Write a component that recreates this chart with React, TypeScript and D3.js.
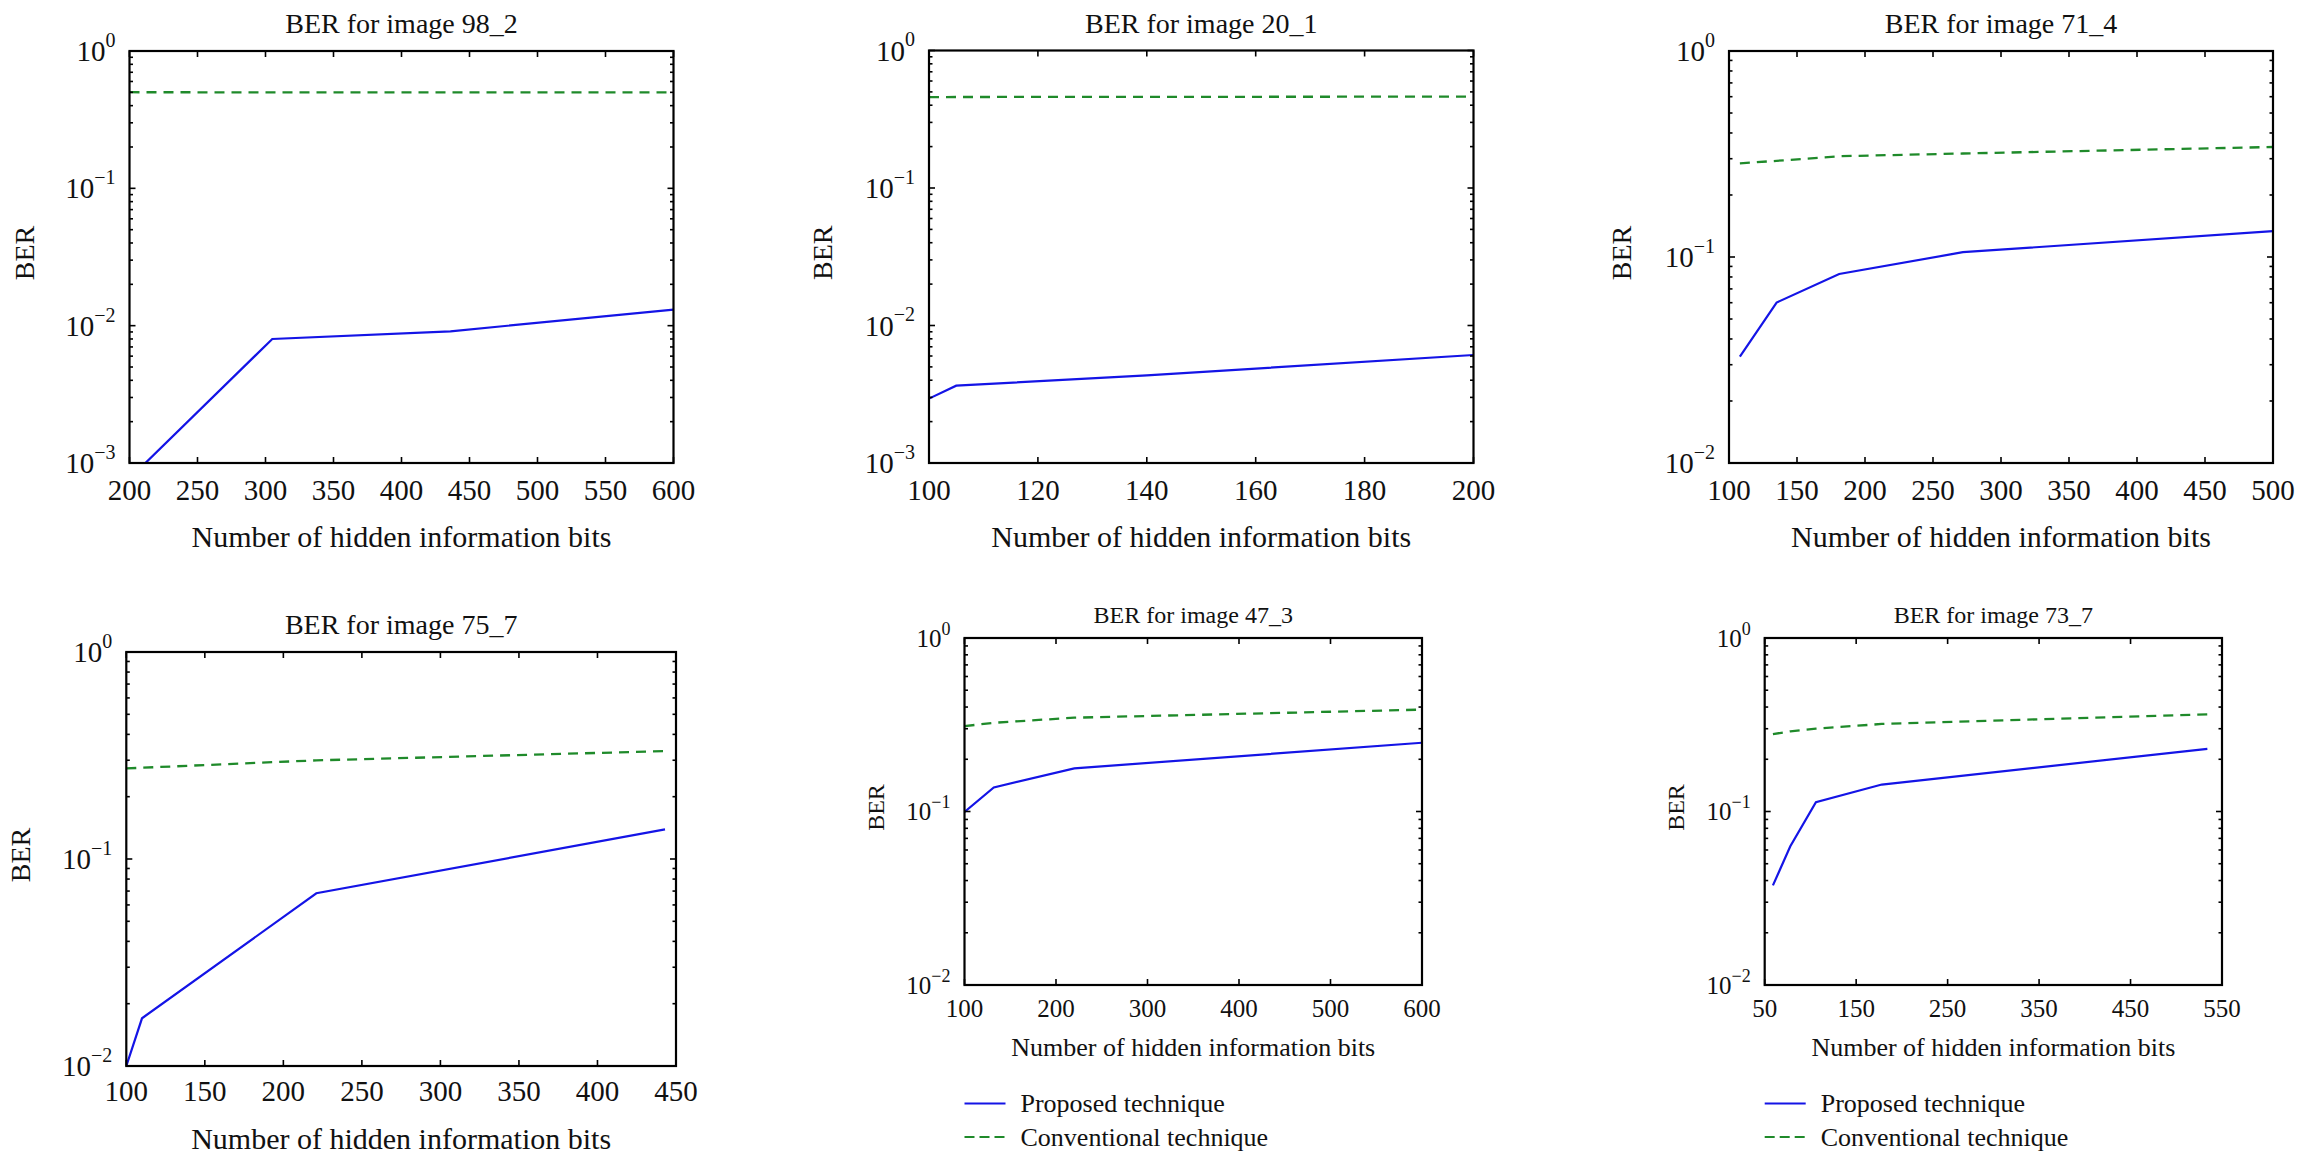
import React from "react";
import * as d3 from "d3";

// ---------- data ----------
const bits98 = [200, 305, 436, 600];
const proposed98 = [0.00077, 0.008, 0.0091, 0.0131];
const conventional98 = [0.501, 0.5, 0.5, 0.5];

const bits20 = [100, 105, 140, 200];
const proposed20 = [0.00294, 0.00365, 0.00434, 0.0061];
const conventional20 = [0.458, 0.459, 0.46, 0.462];

const bits71 = [108, 135, 181, 272, 500];
const proposed71 = [0.0328, 0.0601, 0.0827, 0.1055, 0.1335];
const conventional71 = [0.2846, 0.293, 0.3085, 0.318, 0.342];

const bits75 = [100, 110, 221, 443];
const proposed75 = [0.01, 0.017, 0.0683, 0.139];
const conventional75 = [0.2738, 0.276, 0.2996, 0.332];

const bits47 = [100, 132, 220, 600];
const proposed47 = [0.0993, 0.1376, 0.1773, 0.249];
const conventional47 = [0.3105, 0.3245, 0.3473, 0.3865];

const bits73 = [59, 78, 106, 178, 534];
const proposed73 = [0.0375, 0.0631, 0.1132, 0.143, 0.2296];
const conventional73 = [0.279, 0.29, 0.3, 0.3196, 0.363];

const ticks98 = [200, 250, 300, 350, 400, 450, 500, 550, 600];
const ticks20 = [100, 120, 140, 160, 180, 200];
const ticks71 = [100, 150, 200, 250, 300, 350, 400, 450, 500];
const ticks75 = [100, 150, 200, 250, 300, 350, 400, 450];
const ticks47 = [100, 200, 300, 400, 500, 600];
const ticks73 = [50, 150, 250, 350, 450, 550];

const titles = [
  "BER for image 98_2",
  "BER for image 20_1",
  "BER for image 71_4",
  "BER for image 75_7",
  "BER for image 47_3",
  "BER for image 73_7",
];
const xAxisLabel = "Number of hidden information bits";
const yAxisLabel = "BER";
const legendLabels = ["Proposed technique", "Conventional technique"];

// ---------- layout ----------
type Panel = {
  title: string;
  bits: number[];
  proposed: number[];
  conventional: number[];
  xDomain: [number, number];
  xTicks: number[];
  yMinExp: number;
  box: { l: number; r: number; t: number; b: number };
  fs: { title: number; tick: number; label: number; ber: number; sup: number };
  titleY: number;
  tickY: number;
  xLabelY: number;
  berX: number;
  legend: boolean;
};

const big = { title: 28, tick: 29, label: 30, ber: 28, sup: 20 };
const small = { title: 24, tick: 25, label: 26, ber: 24, sup: 18 };

const panels: Panel[] = [
  { title: titles[0], bits: bits98, proposed: proposed98, conventional: conventional98, xDomain: [200, 600], xTicks: ticks98, yMinExp: -3,
    box: { l: 129.5, r: 673.5, t: 51, b: 463 }, fs: big, titleY: 23, tickY: 490, xLabelY: 536, berX: 24.5, legend: false },
  { title: titles[1], bits: bits20, proposed: proposed20, conventional: conventional20, xDomain: [100, 200], xTicks: ticks20, yMinExp: -3,
    box: { l: 929, r: 1473.5, t: 50.5, b: 463 }, fs: big, titleY: 23, tickY: 490, xLabelY: 536, berX: 822.5, legend: false },
  { title: titles[2], bits: bits71, proposed: proposed71, conventional: conventional71, xDomain: [100, 500], xTicks: ticks71, yMinExp: -2,
    box: { l: 1729, r: 2273, t: 51, b: 463 }, fs: big, titleY: 23, tickY: 490, xLabelY: 536, berX: 1621.5, legend: false },
  { title: titles[3], bits: bits75, proposed: proposed75, conventional: conventional75, xDomain: [100, 450], xTicks: ticks75, yMinExp: -2,
    box: { l: 126.3, r: 676, t: 652, b: 1066 }, fs: big, titleY: 624, tickY: 1091, xLabelY: 1138, berX: 20.7, legend: false },
  { title: titles[4], bits: bits47, proposed: proposed47, conventional: conventional47, xDomain: [100, 600], xTicks: ticks47, yMinExp: -2,
    box: { l: 964.5, r: 1422, t: 638, b: 985 }, fs: small, titleY: 615, tickY: 1008, xLabelY: 1047, berX: 876, legend: true },
  { title: titles[5], bits: bits73, proposed: proposed73, conventional: conventional73, xDomain: [50, 550], xTicks: ticks73, yMinExp: -2,
    box: { l: 1764.7, r: 2222, t: 638, b: 985 }, fs: small, titleY: 615, tickY: 1008, xLabelY: 1047, berX: 1676, legend: true },
];

const BLUE = "#1414e6";
const GREEN = "#1f8a2a";
const FONT = "'Liberation Serif', 'Times New Roman', serif";

function PanelView({ p, idx }: { p: Panel; idx: number }) {
  const { l, r, t, b } = p.box;
  const x = d3.scaleLinear().domain(p.xDomain).range([l, r]);
  const y = d3.scaleLog().domain([Math.pow(10, p.yMinExp), 1]).range([b, t]);
  const line = d3
    .line<[number, number]>()
    .x((d) => x(d[0]))
    .y((d) => y(d[1]));
  const propPts = p.bits.map((v, i) => [v, p.proposed[i]] as [number, number]);
  const convPts = p.bits.map((v, i) => [v, p.conventional[i]] as [number, number]);

  const majors: number[] = [];
  const minors: number[] = [];
  for (let e = p.yMinExp; e <= 0; e++) {
    majors.push(Math.pow(10, e));
    if (e < 0) for (let m = 2; m <= 9; m++) minors.push(m * Math.pow(10, e));
  }
  const clipId = `clip-${idx}`;
  const majorLen = 6;
  const minorLen = 3.5;

  return (
    <g fontFamily={FONT} fill="#111">
      <defs>
        <clipPath id={clipId}>
          <rect x={l} y={t} width={r - l} height={b - t} />
        </clipPath>
      </defs>
      <text x={(l + r) / 2} y={p.titleY} fontSize={p.fs.title} textAnchor="middle" dominantBaseline="central">
        {p.title}
      </text>
      {/* series */}
      <g clipPath={`url(#${clipId})`} fill="none">
        <path d={line(convPts) || ""} stroke={GREEN} strokeWidth={2.3} strokeDasharray="10,7" />
        <path d={line(propPts) || ""} stroke={BLUE} strokeWidth={2.2} />
      </g>
      {/* ticks */}
      <g stroke="#000" strokeWidth={1.6}>
        {p.xTicks.map((v) => (
          <g key={"xt" + v}>
            <line x1={x(v)} x2={x(v)} y1={b} y2={b - majorLen} />
            <line x1={x(v)} x2={x(v)} y1={t} y2={t + majorLen} />
          </g>
        ))}
        {majors.map((v) => (
          <g key={"yt" + v}>
            <line x1={l} x2={l + majorLen} y1={y(v)} y2={y(v)} />
            <line x1={r} x2={r - majorLen} y1={y(v)} y2={y(v)} />
          </g>
        ))}
        {minors.map((v, i) => (
          <g key={"ym" + i}>
            <line x1={l} x2={l + minorLen} y1={y(v)} y2={y(v)} />
            <line x1={r} x2={r - minorLen} y1={y(v)} y2={y(v)} />
          </g>
        ))}
      </g>
      <rect x={l} y={t} width={r - l} height={b - t} fill="none" stroke="#000" strokeWidth={2.2} />
      {/* x tick labels */}
      {p.xTicks.map((v) => (
        <text key={"xl" + v} x={x(v)} y={p.tickY} fontSize={p.fs.tick} textAnchor="middle" dominantBaseline="central">
          {v}
        </text>
      ))}
      {/* y tick labels */}
      {majors.map((v) => {
        const e = Math.round(Math.log10(v));
        return (
          <text key={"yl" + v} x={l - 14} y={y(v)} fontSize={p.fs.tick} textAnchor="end" dominantBaseline="central">
            10
            <tspan fontSize={p.fs.sup} dy={-p.fs.tick * 0.38}>
              {e === 0 ? "0" : "\u2212" + Math.abs(e)}
            </tspan>
          </text>
        );
      })}
      <text x={(l + r) / 2} y={p.xLabelY} fontSize={p.fs.label} textAnchor="middle" dominantBaseline="central">
        {xAxisLabel}
      </text>
      <text
        transform={`translate(${p.berX},${(t + b) / 2 - 4}) rotate(-90)`}
        fontSize={p.fs.ber}
        textAnchor="middle"
        dominantBaseline="central"
      >
        {yAxisLabel}
      </text>
      {p.legend && (
        <g>
          <line x1={l} x2={l + 41} y1={1103.5} y2={1103.5} stroke={BLUE} strokeWidth={1.8} />
          <line x1={l} x2={l + 41} y1={1137} y2={1137} stroke={GREEN} strokeWidth={1.8} strokeDasharray="10,5" />
          <text x={l + 56} y={1103.5} fontSize={26} dominantBaseline="central">
            {legendLabels[0]}
          </text>
          <text x={l + 56} y={1137} fontSize={26} dominantBaseline="central">
            {legendLabels[1]}
          </text>
        </g>
      )}
    </g>
  );
}

export default function App() {
  return (
    <svg
      width={2303}
      height={1156}
      viewBox="0 0 2303 1156"
      style={{ position: "absolute", left: 0, top: 0, background: "#fff" }}
    >
      <rect x={0} y={0} width={2303} height={1156} fill="#fff" />
      {panels.map((p, i) => (
        <PanelView key={i} p={p} idx={i} />
      ))}
    </svg>
  );
}
